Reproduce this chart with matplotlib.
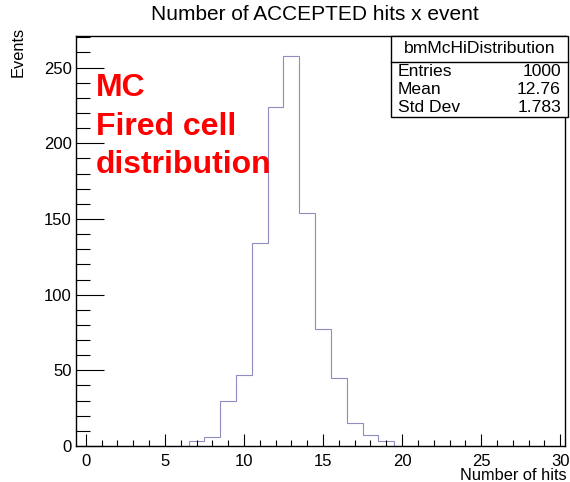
import matplotlib
matplotlib.use("Agg")
import matplotlib.pyplot as plt
from matplotlib.patches import Rectangle
from matplotlib.lines import Line2D
from matplotlib.ticker import MultipleLocator
import numpy as np

# ---- data ----
bin_centers = list(range(0, 31))
counts = [0, 0, 0, 0, 0, 0, 0, 3, 6, 30, 47, 134, 224, 258, 154, 77, 45, 15, 7, 3,
          0, 0, 0, 0, 0, 0, 0, 0, 0, 0, 0]
title = "Number of ACCEPTED hits x event"
xlabel = "Number of hits"
ylabel = "Events"
stats_name = "bmMcHiDistribution"
stats_rows = [("Entries", "1000"), ("Mean", "12.76"), ("Std Dev", "1.783")]
annot_lines = ["MC", "Fired cell", "distribution"]
x_major = [0, 5, 10, 15, 20, 25, 30]
y_major = [0, 50, 100, 150, 200, 250]

plt.rcParams['font.family'] = ['Liberation Sans', 'DejaVu Sans']

W, H = 570, 482
fig = plt.figure(figsize=(W / 100, H / 100), dpi=100)
L, R, T, B = 76, 565, 36, 446
ax = fig.add_axes([L / W, 1 - B / H, (R - L) / W, (B - T) / H])

edges = np.array(bin_centers + [bin_centers[-1] + 1], dtype=float) - 0.5
ax.stairs(counts, edges, color='#8e8ec2', linewidth=0.8)

ax.set_xlim(-0.62, 30.3)
ax.set_ylim(0, 1.05 * max(counts))

ax.set_xticks(x_major)
ax.set_yticks(y_major)
ax.xaxis.set_minor_locator(MultipleLocator(1))
ax.yaxis.set_minor_locator(MultipleLocator(10))
ax.tick_params(axis='both', which='both', direction='in', top=False, right=False,
               labelsize=12, colors='black')
ax.tick_params(axis='x', which='major', length=9, width=0.8, pad=5.5)
ax.tick_params(axis='x', which='minor', length=4.5, width=0.8)
ax.tick_params(axis='y', which='major', length=20, width=0.8, pad=3)
ax.tick_params(axis='y', which='minor', length=10, width=0.8)
for s in ax.spines.values():
    s.set_linewidth(1.0)
    s.set_color('black')

fig.text(315 / W, 1 - 14.5 / H, title, ha='center', va='center', fontsize=15)
fig.text(567 / W, 1 - 475 / H, xlabel, ha='right', va='center', fontsize=11.8)
fig.text(18 / W, 1 - 27 / H, ylabel, rotation=90, ha='center', va='top', fontsize=11.8)

# annotation
ys = [88, 127, 165]
for txt, yy in zip(annot_lines, ys):
    fig.text(96 / W, 1 - yy / H, txt, ha='left', va='center', fontsize=23,
             fontweight='bold', color='#ff0000')

# stats box
bx0, bx1, by0, by1 = 391, 568, 36, 117
fig.add_artist(Rectangle((bx0 / W, 1 - by1 / H), (bx1 - bx0) / W, (by1 - by0) / H,
                         transform=fig.transFigure, facecolor='white',
                         edgecolor='black', linewidth=1.0, zorder=5))
fig.add_artist(Line2D([bx0 / W, bx1 / W], [1 - 61.5 / H, 1 - 61.5 / H],
                      transform=fig.transFigure, color='black', linewidth=1.0, zorder=6))
fig.text((bx0 + bx1) / 2 / W, 1 - 48.5 / H, stats_name, ha='center', va='center',
         fontsize=12.6, zorder=7)
for (k, v), yy in zip(stats_rows, [71.5, 90, 108]):
    fig.text(398 / W, 1 - yy / H, k, ha='left', va='center', fontsize=12.6, zorder=7)
    fig.text(561 / W, 1 - yy / H, v, ha='right', va='center', fontsize=12.6, zorder=7)

fig.savefig("out.png", dpi=100)
